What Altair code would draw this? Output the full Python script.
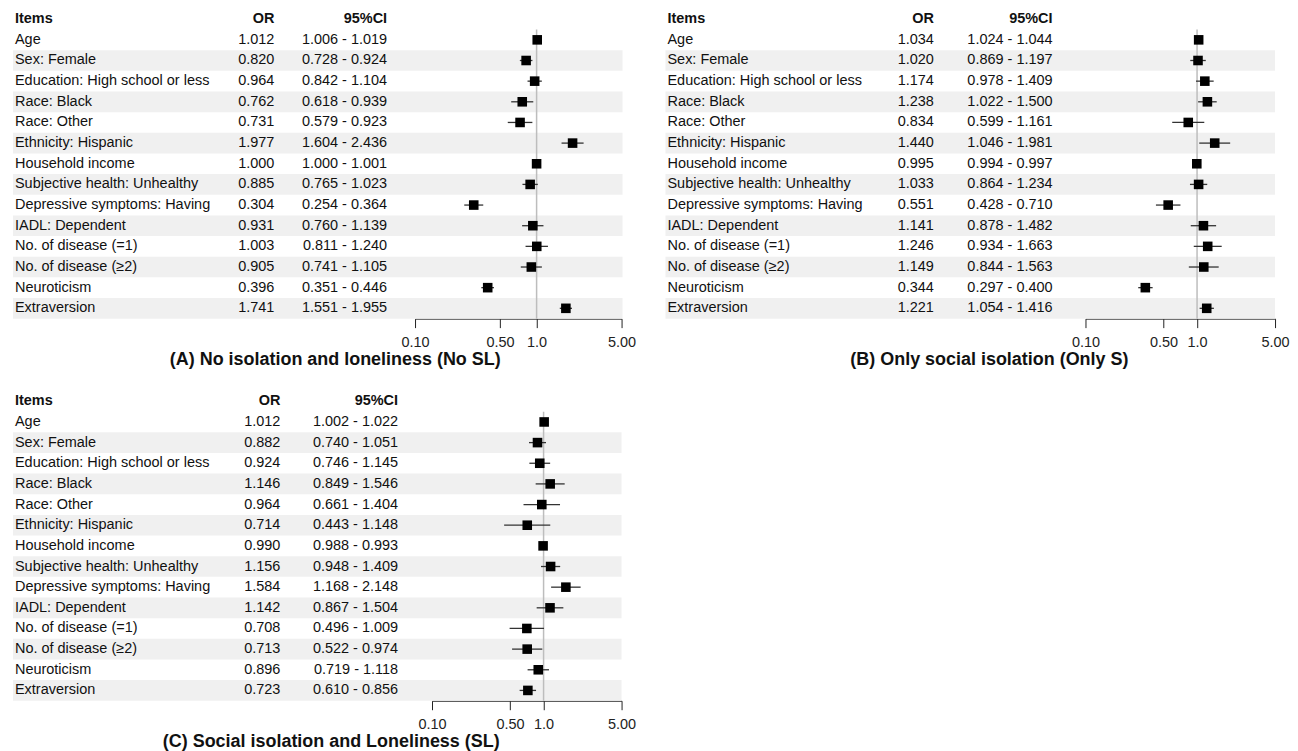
import altair as alt
import pandas as pd

items = [
    "Age", "Sex: Female", "Education: High school or less", "Race: Black",
    "Race: Other", "Ethnicity: Hispanic", "Household income",
    "Subjective health: Unhealthy", "Depressive symptoms: Having",
    "IADL: Dependent", "No. of disease (=1)", "No. of disease (\u22652)",
    "Neuroticism", "Extraversion",
]

or_a = [1.012, 0.820, 0.964, 0.762, 0.731, 1.977, 1.000, 0.885, 0.304, 0.931, 1.003, 0.905, 0.396, 1.741]
lo_a = [1.006, 0.728, 0.842, 0.618, 0.579, 1.604, 1.000, 0.765, 0.254, 0.760, 0.811, 0.741, 0.351, 1.551]
hi_a = [1.019, 0.924, 1.104, 0.939, 0.923, 2.436, 1.001, 1.023, 0.364, 1.139, 1.240, 1.105, 0.446, 1.955]

or_b = [1.034, 1.020, 1.174, 1.238, 0.834, 1.440, 0.995, 1.033, 0.551, 1.141, 1.246, 1.149, 0.344, 1.221]
lo_b = [1.024, 0.869, 0.978, 1.022, 0.599, 1.046, 0.994, 0.864, 0.428, 0.878, 0.934, 0.844, 0.297, 1.054]
hi_b = [1.044, 1.197, 1.409, 1.500, 1.161, 1.981, 0.997, 1.234, 0.710, 1.482, 1.663, 1.563, 0.400, 1.416]

or_c = [1.012, 0.882, 0.924, 1.146, 0.964, 0.714, 0.990, 1.156, 1.584, 1.142, 0.708, 0.713, 0.896, 0.723]
lo_c = [1.002, 0.740, 0.746, 0.849, 0.661, 0.443, 0.988, 0.948, 1.168, 0.867, 0.496, 0.522, 0.719, 0.610]
hi_c = [1.022, 1.051, 1.145, 1.546, 1.404, 1.148, 0.993, 1.409, 2.148, 1.504, 1.009, 0.974, 1.118, 0.856]

headers = ["Items", "OR", "95%CI"]
tick_values = [0.1, 0.5, 1.0, 5.0]
tick_labels = ["0.10", "0.50", "1.0", "5.00"]
titles = [
    "(A) No isolation and loneliness (No SL)",
    "(B) Only social isolation (Only S)",
    "(C) Social isolation and Loneliness (SL)",
]

FONT = "Liberation Sans"
FS = 14.5
ROW_H = 20.7
N = len(items)
H = ROW_H * (N + 1)

label_expr = "[" + ",".join("'%s'" % t for t in tick_labels) + "][indexof([" + \
    ",".join("%g" % v for v in tick_values) + "], datum.value)]"


def panel(title, ors, los, his, or_x, ci_x, fx0, fx1, width, title_dx):
    rows = list(range(1, N + 1))
    df = pd.DataFrame({
        "row": rows,
        "y0": [r - 0.5 for r in rows],
        "y1": [r + 0.5 for r in rows],
        "item": items,
        "or": ors,
        "lo": los,
        "hi": his,
        "or_txt": ["%.3f" % v for v in ors],
        "ci_txt": ["%.3f - %.3f" % (l, h) for l, h in zip(los, his)],
    })
    band_df = df[df["row"] % 2 == 0]
    head = pd.DataFrame({"row": [0], "c1": [headers[0]], "c2": [headers[1]], "c3": [headers[2]]})
    ref = pd.DataFrame({"x": [1.0], "y": [0.5], "y2": [N + 0.5]})

    yscale = alt.Scale(domain=[-0.5, N + 0.5], reverse=True, nice=False, zero=False)
    xscale = alt.Scale(type="log", domain=[0.1, 5.0], range=[fx0, fx1], nice=False)
    xaxis = alt.Axis(values=tick_values, labelExpr=label_expr, tickSize=9,
                     domainColor="#222", tickColor="#222", labelColor="#222",
                     labelFont=FONT, labelFontSize=FS, labelPadding=8, grid=False,
                     title=None, labelFlush=False, labelOverlap=False)

    bands = alt.Chart(band_df).mark_rect(color="#f0f0f0").encode(
        x=alt.value(5), x2=alt.value(width),
        y=alt.Y("y0:Q", scale=yscale, axis=None), y2="y1:Q")

    refl = alt.Chart(ref).mark_rule(color="#bdbdbd", strokeWidth=1.5).encode(
        x=alt.X("x:Q", scale=xscale, axis=xaxis),
        y=alt.Y("y:Q", scale=yscale, axis=None), y2="y2:Q")

    ci = alt.Chart(df).mark_rule(color="#333333", strokeWidth=1.3).encode(
        x=alt.X("lo:Q", scale=xscale, axis=xaxis), x2="hi:Q",
        y=alt.Y("row:Q", scale=yscale, axis=None))

    sq = alt.Chart(df).mark_square(color="black", size=92, opacity=1).encode(
        x=alt.X("or:Q", scale=xscale, axis=xaxis),
        y=alt.Y("row:Q", scale=yscale, axis=None))

    def txt(data, field, xpos, align, bold=False):
        return alt.Chart(data).mark_text(
            font=FONT, fontSize=FS, align=align, baseline="middle",
            color="#111", fontWeight="bold" if bold else "normal").encode(
            x=alt.value(xpos), y=alt.Y("row:Q", scale=yscale, axis=None),
            text=field + ":N")

    layers = [
        bands, refl, ci, sq,
        txt(df, "item", 7, "left"),
        txt(df, "or_txt", or_x, "right"),
        txt(df, "ci_txt", ci_x, "right"),
        txt(head, "c1", 7, "left", True),
        txt(head, "c2", or_x, "right", True),
        txt(head, "c3", ci_x, "right", True),
    ]
    return alt.layer(*layers).properties(
        width=width, height=H,
        title=alt.TitleParams(title, orient="bottom", anchor="middle", dx=title_dx,
                              font=FONT, fontSize=18, fontWeight="bold",
                              color="#111", offset=2))


pa = panel(titles[0], or_a, lo_a, hi_a, 267, 380, 408, 615, 616, 20)
pb = panel(titles[1], or_b, lo_b, hi_b, 274, 393, 426, 616, 616, 21.7)
pc = panel(titles[2], or_c, lo_c, hi_c, 273, 391, 425, 615, 615, 16.5)

chart = alt.vconcat(
    alt.hconcat(pa, pb, spacing=38, bounds="flush"),
    pc, spacing=22,
).properties(padding=0).configure_view(strokeWidth=0)

chart.save("out.html", embed_options={"renderer": "svg", "actions": False})
